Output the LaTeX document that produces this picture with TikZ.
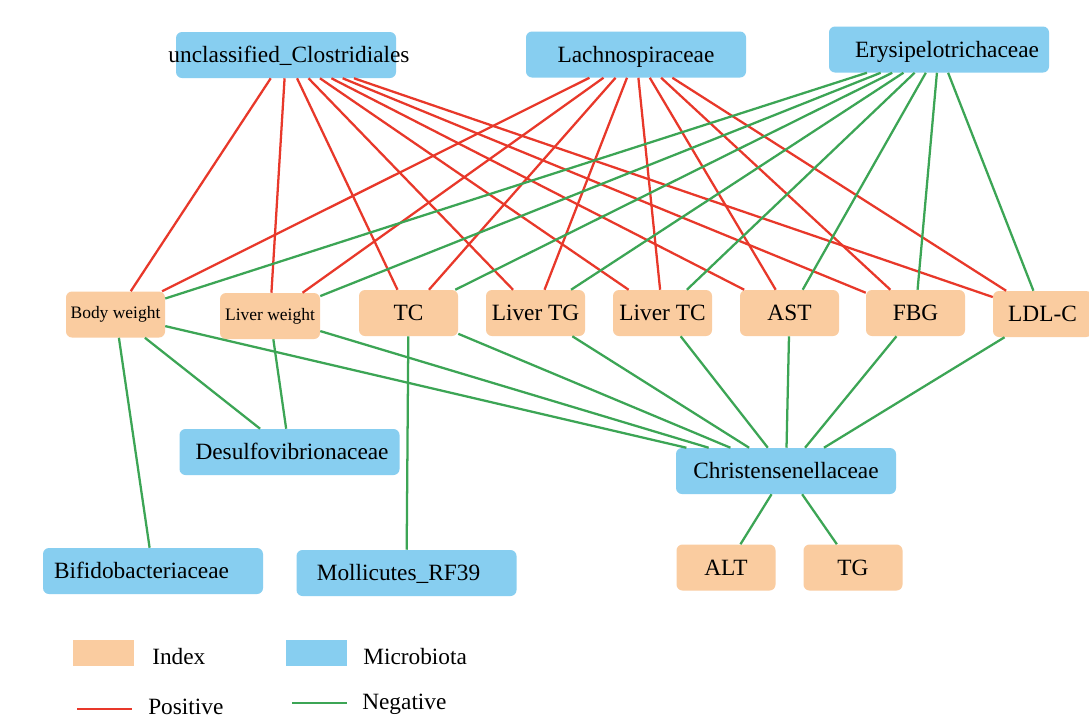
\documentclass[tikz,border=0pt]{standalone}
\usepackage{fontspec}
\setmainfont{Liberation Serif}
\definecolor{mbblue}{RGB}{135,206,240}
\definecolor{idxor}{RGB}{250,204,160}
\definecolor{posred}{RGB}{232,56,42}
\definecolor{neggreen}{RGB}{60,165,85}
\newcommand\fmain{\fontsize{17.5}{21}\selectfont}
\newcommand\fsmall{\fontsize{13.1}{16}\selectfont}
\begin{document}
\begin{tikzpicture}[x=0.75pt,y=-0.75pt,
  txt/.style={inner sep=0pt,text height=13pt,text depth=1.5pt},
  txts/.style={inner sep=0pt,text height=9pt,text depth=3pt},
  mb/.style={fill=mbblue,rounded corners=4.5pt,minimum width=165pt,minimum height=34.5pt,inner sep=0pt},
  mbl/.style={txt,font=\fmain},
  idx/.style={fill=idxor,rounded corners=4.5pt,minimum width=74.25pt,minimum height=34.5pt,inner sep=0pt,txt,font=\fmain},
  idxs/.style={idx,txts,font=\fsmall},
  posline/.style={draw=posred,line width=1.7pt},
  negline/.style={draw=neggreen,line width=1.7pt},
  lgbox/.style={minimum width=45.75pt,minimum height=19.5pt,inner sep=0pt},
  lgtxt/.style={txt,font=\fmain,anchor=west}]
\fill[white] (0,0) rectangle (1089,718);
\useasboundingbox (0,0) rectangle (1089,718);
% microbiota
\node[mb,label={[mbl,xshift=2.25pt]center:unclassified\_Clostridiales}] (uc) at (286,55) {};
\node[mb,label={[mbl]center:Lachnospiraceae}] (la) at (636,54.5) {};
\node[mb,label={[mbl,xshift=6pt]center:Erysipelotrichaceae}] (er) at (939,49.5) {};
\node[mb,label={[mbl,xshift=1.9pt]center:Desulfovibrionaceae}] (de) at (289.5,452) {};
\node[mb,label={[mbl]center:Christensenellaceae}] (ch) at (786,471) {};
\node[mb,label={[mbl,xshift=-8.6pt]center:Bifidobacteriaceae}] (bi) at (153,571) {};
\node[mb,label={[mbl,xshift=-6pt]center:Mollicutes\_RF39}] (mo) at (406.5,573) {};
% indices
\node[idxs] (bw) at (115.5,314.5) {Body weight};
\node[idxs,minimum width=75pt] (lw) at (270,316) {Liver weight};
\node[idx] (tc) at (408.5,313) {TC};
\node[idx] (ltg) at (535.5,313) {Liver TG};
\node[idx] (ltc) at (662.5,313) {Liver TC};
\node[idx] (ast) at (789.5,313) {AST};
\node[idx] (fbg) at (915.5,313) {FBG};
\node[idx] (ldl) at (1042.5,314) {LDL-C};
\node[idx] (alt) at (726,567.5) {ALT};
\node[idx] (tg) at (853,567.5) {TG};
% edges
\foreach \t in {bw,lw,tc,ltg,ltc,ast,fbg,ldl}{
  \draw[posline] (uc) -- (\t);
  \draw[posline] (la) -- (\t);
}
\foreach \t in {bw,lw,tc,ltg,ltc,ast,fbg,ldl}{
  \draw[negline] (er) -- (\t);
  \draw[negline] (\t) -- (ch);
}
\draw[negline] (bw) -- (bi);
\draw[negline] (bw) -- (de);
\draw[negline] (lw) -- (de);
\draw[negline] (tc) -- (mo);
\draw[negline] (ch) -- (alt);
\draw[negline] (ch) -- (tg);
% legend
\node[lgbox,fill=idxor] (lgi) at (103.5,653) {};
\node[lgtxt] (lgit) at (152,657.3) {Index};
\node[lgbox,fill=mbblue] (lgm) at (316.5,653) {};
\node[lgtxt] (lgmt) at (363,657.3) {Microbiota};
\coordinate (pa) at (77,709);
\coordinate (pb) at (132,709);
\draw[posred,line width=1.2pt] (pa) -- (pb);
\node[lgtxt] (lgp) at (148,707.3) {Positive};
\coordinate (na) at (292,703);
\coordinate (nb) at (347,703);
\draw[neggreen,line width=1.2pt] (na) -- (nb);
\node[lgtxt] (lgn) at (362,702.3) {Negative};
\end{tikzpicture}
\end{document}
